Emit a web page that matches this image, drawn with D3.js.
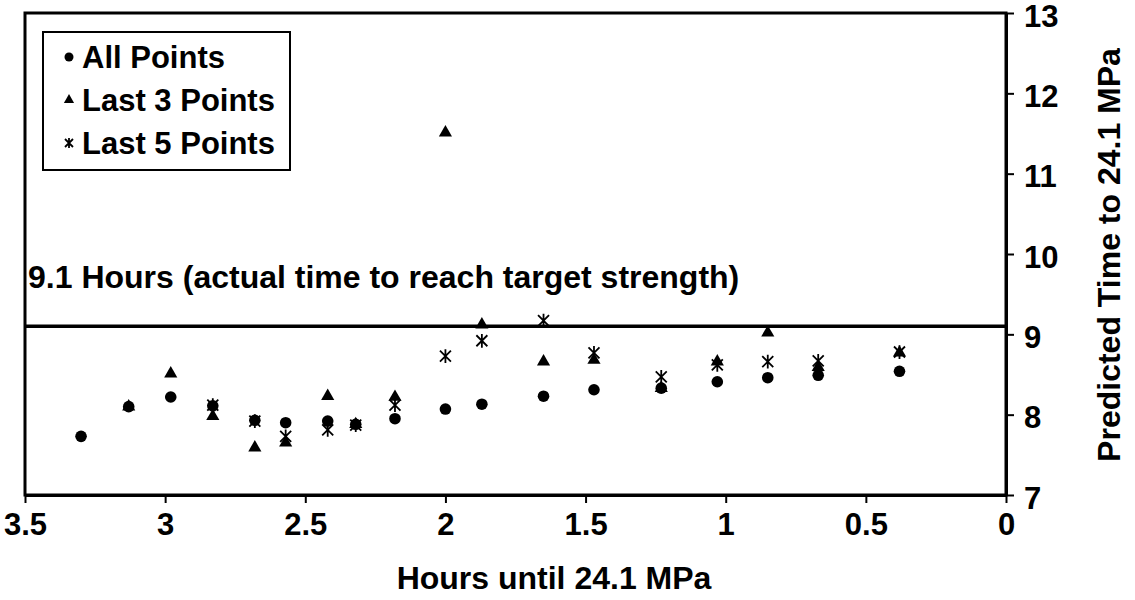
<!DOCTYPE html>
<html>
<head>
<meta charset="utf-8">
<script src="https://cdn.jsdelivr.net/npm/d3@7"></script>
<style>
  html, body { margin: 0; padding: 0; background: #fff; }
  svg text { font-family: "Liberation Sans", Arial, sans-serif; font-weight: bold; fill: #000; }
</style>
</head>
<body>
<svg id="chart" width="1135" height="600"></svg>
<script>
// ---- data ----
const hoursAll   = [3.30, 3.13, 2.98, 2.83, 2.68, 2.57, 2.42, 2.32, 2.18, 2.00, 1.87, 1.65, 1.47, 1.23, 1.03, 0.85, 0.67, 0.38];
const allPoints  = [7.73, 8.10, 8.22, 8.11, 7.93, 7.90, 7.92, 7.88, 7.95, 8.07, 8.13, 8.23, 8.31, 8.33, 8.41, 8.46, 8.49, 8.54];

const hoursLast3 = [3.13, 2.98, 2.83, 2.68, 2.57, 2.42, 2.32, 2.18, 2.00, 1.87, 1.65, 1.47, 1.23, 1.03, 0.85, 0.67, 0.38];
const last3      = [8.10, 8.51, 7.98, 7.59, 7.65, 8.23, 7.88, 8.22, 11.51, 9.12, 8.66, 8.68, 8.33, 8.66, 9.02, 8.59, 8.77];

const hoursLast5 = [2.83, 2.68, 2.57, 2.42, 2.32, 2.18, 2.00, 1.87, 1.65, 1.47, 1.23, 1.03, 0.85, 0.67, 0.38];
const last5      = [8.12, 7.92, 7.73, 7.81, 7.87, 8.12, 8.73, 8.92, 9.17, 8.77, 8.47, 8.62, 8.66, 8.67, 8.78];

const xTicks = [3.5, 3, 2.5, 2, 1.5, 1, 0.5, 0];
const yTicks = [7, 8, 9, 10, 11, 12, 13];
const actualTime = 9.1;
const seriesNames = ["All Points", "Last 3 Points", "Last 5 Points"];
const annotation = "9.1 Hours (actual time to reach target strength)";
const xTitle = "Hours until 24.1 MPa";
const yTitle = "Predicted Time to 24.1 MPa";

// ---- layout ----
const TICKSTYLE = "font-family:'Liberation Sans',Arial,sans-serif;font-weight:700;font-size:31px;fill:#000";
const svg = d3.select("#chart");
const L = 25, R = 1006, T = 13, B = 495;
const x = d3.scaleLinear().domain([3.5, 0]).range([L, R]);
const y = d3.scaleLinear().domain([7, 13]).range([B, T]);

// frame
svg.append("rect").attr("x", L).attr("y", T).attr("width", R - L).attr("height", B - T)
  .attr("fill", "none").attr("stroke", "#000").attr("stroke-width", 3);

// x axis
const xAxis = svg.append("g").attr("transform", `translate(0,${B})`)
  .call(d3.axisBottom(x).tickValues(xTicks).tickFormat(d3.format("")).tickSizeInner(8).tickSizeOuter(0).tickPadding(10));
xAxis.select(".domain").attr("stroke", "#000").attr("stroke-width", 3);
xAxis.selectAll(".tick line").attr("stroke", "#000").attr("stroke-width", 2);
xAxis.selectAll(".tick text").attr("style", TICKSTYLE);

// y axis (right)
const yAxis = svg.append("g").attr("transform", `translate(${R},0)`)
  .call(d3.axisRight(y).tickValues(yTicks).tickFormat(d3.format("")).tickSizeInner(8).tickSizeOuter(0).tickPadding(10));
yAxis.select(".domain").attr("stroke", "#000").attr("stroke-width", 3);
yAxis.selectAll(".tick line").attr("stroke", "#000").attr("stroke-width", 2);
yAxis.selectAll(".tick text").attr("style", TICKSTYLE).attr("dy", "0.42em");

// reference line
svg.append("line").attr("x1", L).attr("x2", R).attr("y1", y(actualTime)).attr("y2", y(actualTime))
  .attr("stroke", "#000").attr("stroke-width", 3.5);
svg.append("text").attr("x", 28).attr("y", 288).style("font-size", "32px").text(annotation);

// axis titles
svg.append("text").attr("x", 554).attr("y", 589).attr("text-anchor", "middle")
  .style("font-size", "32px").text(xTitle);
svg.append("text").attr("transform", `translate(1120,255) rotate(-90)`).attr("text-anchor", "middle")
  .style("font-size", "32px").text(yTitle);

// markers
const triPath = d3.symbol().type(d3.symbolTriangle).size(75)();
function star(g, s) {
  const p = `M${-s},${-s}L${s},${s}M${-s},${s}L${s},${-s}M0,${-s * 1.25}L0,${s * 1.25}`;
  g.append("path").attr("d", p).attr("stroke", "#000").attr("stroke-width", 1.8).attr("fill", "none");
}

const plot = svg.append("g");
plot.selectAll("circle.all").data(hoursAll.map((h, i) => [h, allPoints[i]])).enter()
  .append("circle").attr("class", "all").attr("cx", d => x(d[0])).attr("cy", d => y(d[1])).attr("r", 5.8).attr("fill", "#000");
plot.selectAll("path.l3").data(hoursLast3.map((h, i) => [h, last3[i]])).enter()
  .append("path").attr("class", "l3").attr("d", triPath)
  .attr("transform", d => `translate(${x(d[0])},${y(d[1])})`).attr("fill", "#000");
plot.selectAll("g.l5").data(hoursLast5.map((h, i) => [h, last5[i]])).enter()
  .append("g").attr("class", "l5").attr("transform", d => `translate(${x(d[0])},${y(d[1])})`)
  .each(function () { star(d3.select(this), 5.5); });

// legend
const lg = svg.append("g");
lg.append("rect").attr("x", 43).attr("y", 32).attr("width", 247).attr("height", 138)
  .attr("fill", "#fff").attr("stroke", "#000").attr("stroke-width", 2);
const rowsY = [57, 100, 143];
seriesNames.forEach((name, i) => {
  const cy = rowsY[i];
  if (i === 0) lg.append("circle").attr("cx", 69).attr("cy", cy).attr("r", 4.5).attr("fill", "#000");
  if (i === 1) lg.append("path").attr("d", d3.symbol().type(d3.symbolTriangle).size(45)()).attr("transform", `translate(69,${cy})`).attr("fill", "#000");
  if (i === 2) star(lg.append("g").attr("transform", `translate(69,${cy})`), 4);
  lg.append("text").attr("x", 82).attr("y", cy).attr("dy", "0.36em").style("font-size", "31px").text(name);
});
</script>
</body>
</html>
